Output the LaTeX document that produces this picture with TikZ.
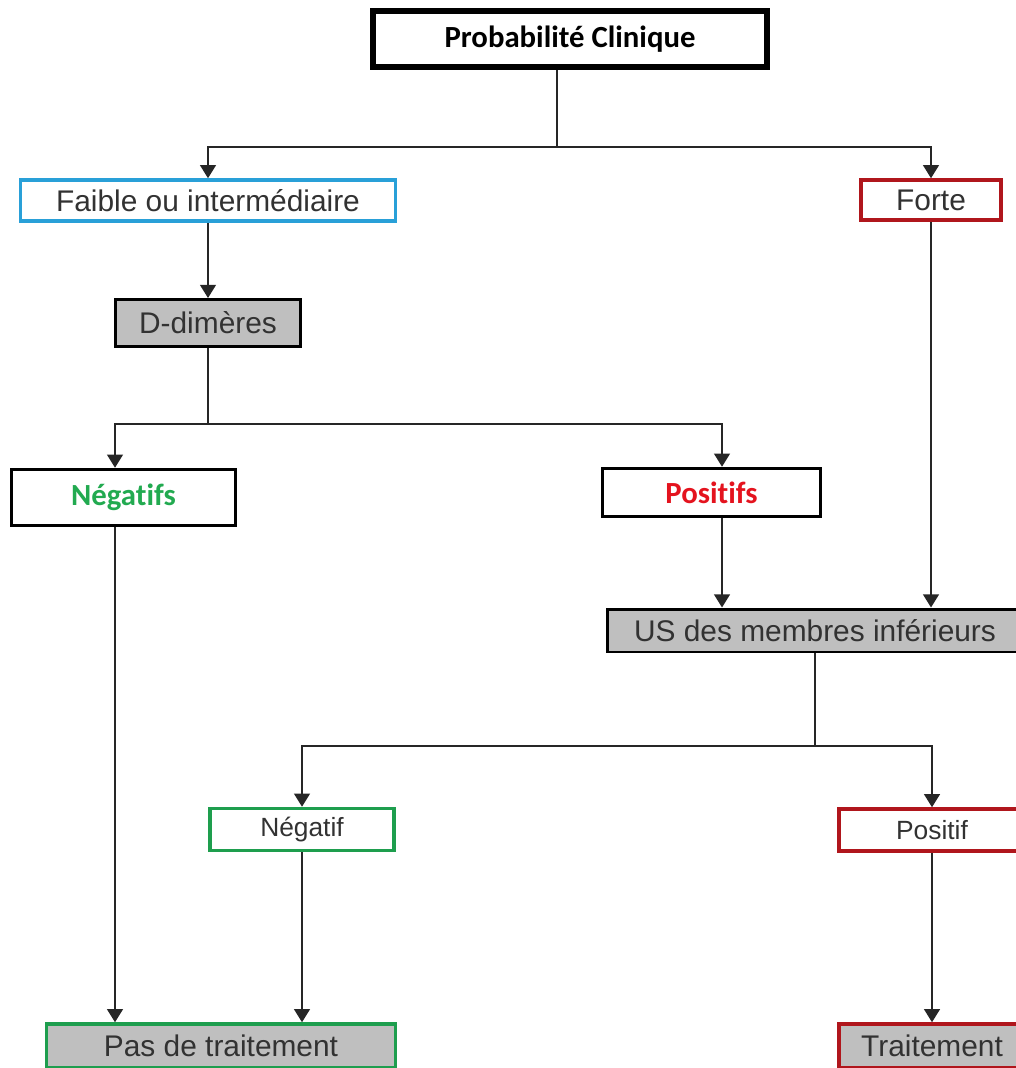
\documentclass[tikz,border=0pt]{standalone}
\usepackage{fontspec}
\setmainfont{Liberation Sans}
\newfontfamily\calibri[Ligatures=NoCommon]{Carlito}
\usetikzlibrary{arrows.meta}
\definecolor{bleuclair}{RGB}{41,160,216}
\definecolor{rougefonce}{RGB}{176,22,28}
\definecolor{vertbord}{RGB}{30,158,78}
\definecolor{verttexte}{RGB}{34,170,80}
\definecolor{rougetexte}{RGB}{228,19,30}
\definecolor{grisfond}{RGB}{191,191,191}
\definecolor{gristexte}{RGB}{50,50,50}
\tikzset{
  boite/.style={draw,rectangle,inner sep=0pt,text=gristexte,line width=2pt,
    font=\fontsize{17}{19}\selectfont},
  petite/.style={boite,font=\fontsize{15}{17}\selectfont},
  grasse/.style={boite,draw=black,font=\calibri\bfseries\fontsize{17.5}{20}\selectfont},
  grise/.style={boite,fill=grisfond},
  fleche/.style={-{Triangle[width=9pt,length=7.5pt]},line width=1.1pt,draw=black!85},
  ligne/.style={line width=1.1pt,draw=black!85}
}
\begin{document}
\begin{tikzpicture}[x=0.02cm,y=-0.02cm]
  \useasboundingbox(0,0)rectangle(1016,1068);
  \clip(0,0)rectangle(1016,1068);
  % boites
  \node[grasse,text=black,line width=3.2pt,minimum width=7.88cm,minimum height=1.12cm](prob)at(570,39){Probabilité Clinique};
  \node[boite,draw=bleuclair,minimum width=7.5cm,minimum height=0.82cm](faible)at(208,200.5){Faible ou intermédiaire};
  \node[boite,draw=rougefonce,minimum width=2.8cm,minimum height=0.8cm](forte)at(931,200){Forte};
  \node[grise,draw=black,line width=1.7pt,minimum width=3.72cm,minimum height=0.94cm](ddim)at(208,323){D-dimères};
  \node[grasse,text=verttexte,minimum width=4.48cm,minimum height=1.12cm](negs)at(123.5,497.5){Négatifs};
  \node[grasse,text=rougetexte,minimum width=4.36cm,minimum height=0.96cm](poss)at(711.5,492.5){Positifs};
  \node[grise,draw=black,line width=1.7pt,minimum width=8.32cm,minimum height=0.86cm](us)at(815,630.5){US des membres inférieurs};
  \node[petite,draw=vertbord,minimum width=3.68cm,minimum height=0.84cm](neg)at(302,829.5){Négatif};
  \node[petite,draw=rougefonce,minimum width=3.72cm,minimum height=0.84cm](pos)at(932,830){Positif};
  \node[grise,draw=vertbord,minimum width=6.98cm,minimum height=0.88cm](pas)at(221,1046){Pas de traitement};
  \node[grise,draw=rougefonce,minimum width=3.72cm,minimum height=0.88cm](trait)at(932,1046){Traitement};
  % points de jonction
  \coordinate(j1)at(557,147);
  \coordinate(j2)at(208,424);
  \coordinate(j3)at(815,746);
  \coordinate(cnegs)at(115,0);
  \coordinate(cposs)at(722,0);
  % fleches
  \draw[ligne](prob.south-|j1)--(j1);
  \draw[fleche](j1)-|(faible.north);
  \draw[fleche](j1)-|(forte.north);
  \draw[fleche](faible)--(ddim);
  \draw[ligne](ddim)--(j2);
  \draw[fleche](j2)-|(negs.north-|cnegs);
  \draw[fleche](j2)-|(poss.north-|cposs);
  \draw[fleche](poss.south-|cposs)--(us.north-|cposs);
  \draw[fleche](forte)--(forte|-us.north);
  \draw[ligne](us.south-|j3)--(j3);
  \draw[fleche](j3)-|(neg.north);
  \draw[fleche](j3)-|(pos.north);
  \draw[fleche](negs.south-|cnegs)--(pas.north-|cnegs);
  \draw[fleche](neg)--(neg|-pas.north);
  \draw[fleche](pos)--(trait);
\end{tikzpicture}
\end{document}
